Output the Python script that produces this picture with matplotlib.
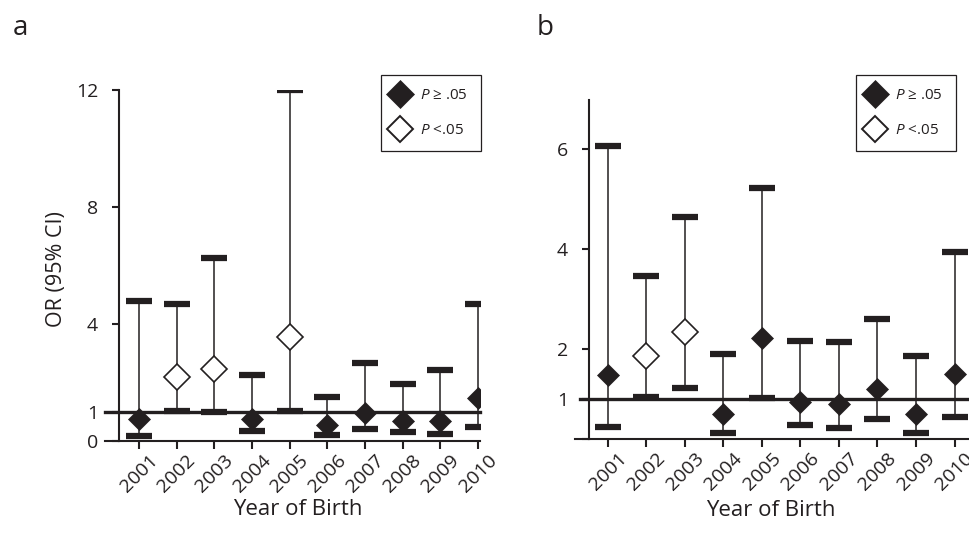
import matplotlib
matplotlib.use("Agg")
from matplotlib import pyplot as plt
from matplotlib.lines import Line2D
import numpy as np

plt.rcParams['font.family'] = ['Open Sans', 'DejaVu Sans']
plt.rcParams['mathtext.fontset'] = 'custom'
plt.rcParams['mathtext.it'] = 'Open Sans:italic'
plt.rcParams['mathtext.rm'] = 'Open Sans'

k = '#231f20'

years = ['2001', '2002', '2003', '2004', '2005', '2006', '2007', '2008', '2009', '2010']

# panel a
or_a = [0.75, 2.2, 2.46, 0.75, 3.54, 0.55, 0.97, 0.7, 0.7, 1.46]
lo_a = [0.18, 1.02, 1.0, 0.33, 1.02, 0.22, 0.4, 0.3, 0.24, 0.48]
hi_a = [4.8, 4.7, 6.25, 2.26, 12.0, 1.52, 2.66, 1.96, 2.43, 4.7]
sig_a = [False, True, True, False, True, False, False, False, False, False]

# panel b
or_b = [1.49, 1.87, 2.34, 0.71, 2.23, 0.95, 0.91, 1.21, 0.71, 1.51]
lo_b = [0.45, 1.05, 1.23, 0.33, 1.02, 0.49, 0.43, 0.61, 0.32, 0.64]
hi_b = [6.06, 3.47, 4.63, 1.9, 5.22, 2.16, 2.14, 2.6, 1.86, 3.94]
sig_b = [False, True, True, False, False, False, False, False, False, False]

W, H = 969, 537
fig = plt.figure(figsize=(W / 100, H / 100), dpi=100)


def panel(rect, orv, lo, hi, sig, xlim, ylim, yticks, ylabels, ext1):
    ax = fig.add_axes(rect)
    x = np.arange(len(years))
    orv = np.array(orv)
    lo = np.array(lo)
    hi = np.array(hi)
    sig = np.array(sig)
    ax.errorbar(x, orv, yerr=[orv - lo, hi - orv], fmt='none', ecolor=k,
                elinewidth=1.1, capsize=9.4, capthick=4.5, zorder=2)
    ax.plot(x[~sig], orv[~sig], 'D', ms=10.8, mfc=k, mec=k, mew=0.5, zorder=4)
    ax.plot(x[sig], orv[sig], 'D', ms=13.5, mfc='white', mec=k, mew=1.2, zorder=4)
    ax.set_xlim(*xlim)
    ax.set_ylim(*ylim)
    ax.set_yticks(yticks)
    ax.set_yticklabels(ylabels, fontsize=14, color=k)
    ax.set_xticks(x)
    ax.set_xticklabels(years, rotation=45, ha='center', fontsize=14, color=k)
    for s in ['top', 'right']:
        ax.spines[s].set_visible(False)
    for s in ['left', 'bottom']:
        ax.spines[s].set_linewidth(1.5)
        ax.spines[s].set_color(k)
    ax.tick_params(axis='y', length=5, width=1.5, color=k, pad=10)
    ax.tick_params(axis='x', length=6, width=1.5, color=k, pad=1.5)
    # reference line at OR = 1 and extended baseline
    axw = rect[2] * W
    ax.plot([-ext1 / axw, 1], [1, 1], color=k, lw=2.4,
            transform=ax.get_yaxis_transform(), clip_on=False, zorder=3)
    ax.plot([-14 / axw, 0], [0, 0], color=k, lw=1.5,
            transform=ax.transAxes, clip_on=False)
    ax.set_xlabel('Year of Birth', fontsize=16, color=k)
    return ax


rect_a = [119 / W, 1 - 441 / H, 361 / W, 351 / H]
rect_b = [589 / W, 1 - 439 / H, 379 / W, 339 / H]

ax1 = panel(rect_a, or_a, lo_a, hi_a, sig_a, (-0.53, 9.05), (0, 12),
            [0, 1, 4, 8, 12], ['0', '1', '4', '8', '12'], 14)
ax2 = panel(rect_b, or_b, lo_b, hi_b, sig_b, (-0.49, 9.35), (0.21, 6.97),
            [0.21, 1, 2, 4, 6], ['', '1', '2', '4', '6'], 9)

ax1.set_ylabel('OR (95% CI)', fontsize=15.5, color=k)
ax1.yaxis.set_label_coords(-0.145, 0.49)
ax1.xaxis.set_label_coords(0.496, -0.165)
ax2.xaxis.set_label_coords(0.48, -0.18)

fig.text(13 / W, 1 - 35 / H, 'a', fontsize=20, color=k)
fig.text(537 / W, 1 - 35 / H, 'b', fontsize=20, color=k)

handles = [
    Line2D([], [], marker='D', ls='none', ms=14, mfc=k, mec=k, mew=0.5),
    Line2D([], [], marker='D', ls='none', ms=13.5, mfc='white', mec=k, mew=1.4),
]
labels = ['$P$ \u2265 .05', '$P$ <.05']
for right in [481, 956]:
    leg = fig.legend(handles, labels, loc='upper right',
                     bbox_to_anchor=(right / W, 1 - 75 / H),
                     bbox_transform=fig.transFigure, borderaxespad=0,
                     fontsize=11, frameon=True, fancybox=False,
                     edgecolor=k, framealpha=1, borderpad=0.85,
                     labelspacing=1.3, handlelength=0.75, handletextpad=0.95,
                     numpoints=1)
    leg.get_frame().set_linewidth(0.9)
    for t in leg.get_texts():
        t.set_color(k)

fig.savefig('out.png', dpi=100)
